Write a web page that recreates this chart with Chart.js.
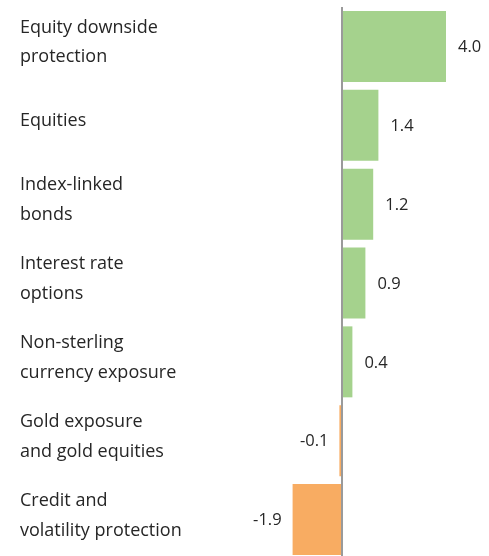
<!DOCTYPE html>
<html>
<head>
<meta charset="utf-8">
<script src="https://cdn.jsdelivr.net/npm/chart.js@4/dist/chart.umd.min.js"></script>
<style>
  html, body { margin: 0; padding: 0; background: #fff; overflow: hidden; }
  #wrap { width: 489px; height: 560px; }
</style>
</head>
<body>
<div id="wrap"><canvas id="c" width="489" height="560"></canvas></div>
<script>
// Contribution by strategy (percentage points)
const categories = [
  ['Equity downside', 'protection'],
  ['Equities'],
  ['Index-linked', 'bonds'],
  ['Interest rate', 'options'],
  ['Non-sterling', 'currency exposure'],
  ['Gold exposure', 'and gold equities'],
  ['Credit and', 'volatility protection']
];
const contributions = [4.0, 1.4, 1.2, 0.9, 0.4, -0.1, -1.9];

const POS_COLOR = '#a5d28d';
const NEG_COLOR = '#f8ac62';
const TEXT_COLOR = '#262626';
const FONT = '"Open Sans", "Noto Sans", sans-serif';

// Prints each bar's value just beyond its end
const valueLabels = {
  id: 'valueLabels',
  afterDatasetsDraw(chart) {
    const { ctx } = chart;
    const meta = chart.getDatasetMeta(0);
    ctx.save();
    ctx.font = '16.5px ' + FONT;
    ctx.fillStyle = TEXT_COLOR;
    ctx.textBaseline = 'middle';
    meta.data.forEach((bar, i) => {
      const v = contributions[i];
      const txt = v.toFixed(1);
      if (v >= 0) {
        ctx.textAlign = 'left';
        ctx.fillText(txt, bar.x + 12, bar.y + 1);
      } else {
        ctx.textAlign = 'right';
        ctx.fillText(txt, bar.x - 11, bar.y + 1);
      }
    });
    ctx.restore();
  }
};

new Chart(document.getElementById('c'), {
  type: 'bar',
  data: {
    labels: categories,
    datasets: [{
      data: contributions,
      backgroundColor: contributions.map(v => v >= 0 ? POS_COLOR : NEG_COLOR),
      borderWidth: 0,
      barPercentage: 0.9,
      categoryPercentage: 1.0
    }]
  },
  options: {
    indexAxis: 'y',
    responsive: false,
    animation: false,
    layout: { padding: { left: 20, right: 4, top: 7, bottom: 1 } },
    plugins: {
      legend: { display: false },
      tooltip: { enabled: false }
    },
    scales: {
      x: {
        min: -2,
        max: 5.5,
        ticks: { display: false, stepSize: 1 },
        border: { display: false },
        grid: {
          drawTicks: false,
          lineWidth: 2,
          color: c => c.tick && c.tick.value === 0 ? '#9a9a9a' : 'rgba(0,0,0,0)'
        },
        afterFit(scale) { scale.height = 0; scale.paddingLeft = 0; scale.paddingRight = 0; }
      },
      y: {
        afterFit(scale) {
          scale.width = 270;
          scale.paddingTop = 0;
          scale.paddingBottom = 0;
        },
        border: { display: false },
        grid: { display: false },
        ticks: {
          crossAlign: 'far',
          labelOffset: -4,
          color: TEXT_COLOR,
          font: { family: FONT, size: 18, lineHeight: 1.66 }
        }
      }
    }
  },
  plugins: [valueLabels]
});
</script>
</body>
</html>
